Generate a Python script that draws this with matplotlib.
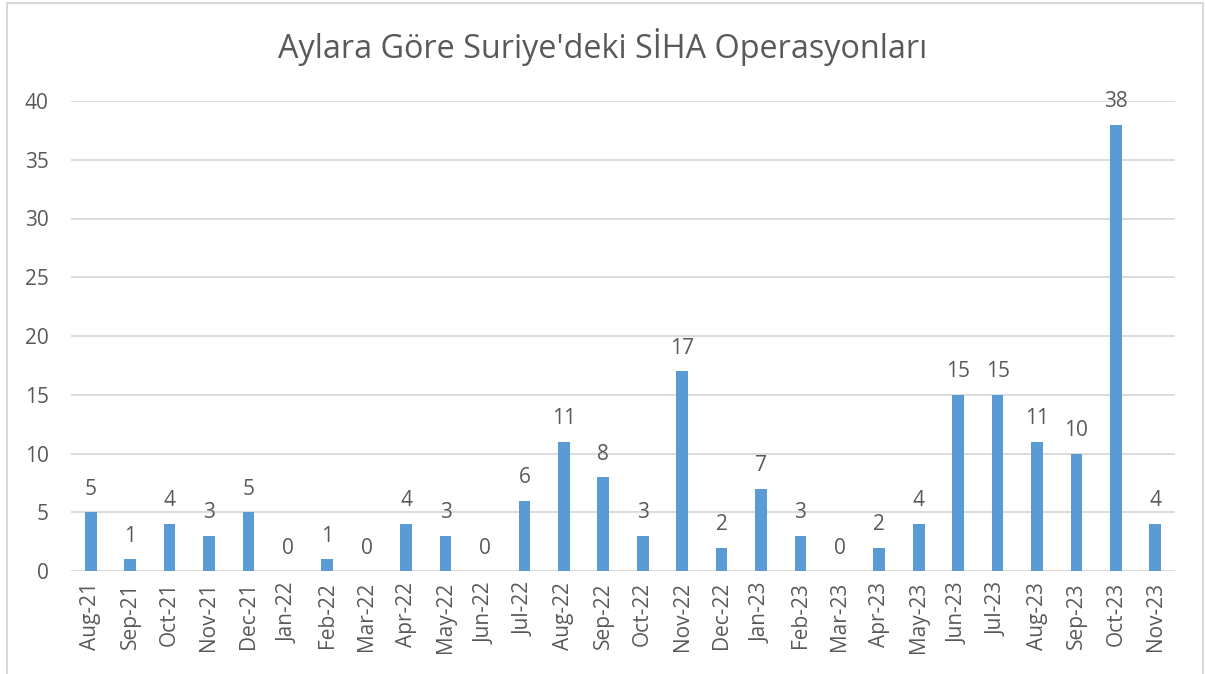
import matplotlib.pyplot as plt
from matplotlib.patches import Rectangle

plt.rcParams['font.family'] = ['Open Sans', 'DejaVu Sans']

# aylar ve operasyon sayilari
months = ['Aug-21', 'Sep-21', 'Oct-21', 'Nov-21', 'Dec-21', 'Jan-22', 'Feb-22',
          'Mar-22', 'Apr-22', 'May-22', 'Jun-22', 'Jul-22', 'Aug-22', 'Sep-22',
          'Oct-22', 'Nov-22', 'Dec-22', 'Jan-23', 'Feb-23', 'Mar-23', 'Apr-23',
          'May-23', 'Jun-23', 'Jul-23', 'Aug-23', 'Sep-23', 'Oct-23', 'Nov-23']
operations = [5, 1, 4, 3, 5, 0, 1, 0, 4, 3, 0, 6, 11, 8, 3, 17, 2, 7, 3, 0,
              2, 4, 15, 15, 11, 10, 38, 4]
yticks = [0, 5, 10, 15, 20, 25, 30, 35, 40]

text_color = '#595959'
bar_color = '#5B9BD5'
grid_color = '#D9D9D9'

W, H = 1205, 674
fig = plt.figure(figsize=(W / 100, H / 100), dpi=100)
ax = fig.add_axes([71 / W, 1 - 571 / H, (1175 - 71) / W, (571 - 101) / H])

x = range(len(months))
bars = ax.bar(x, operations, width=0.3, color=bar_color, zorder=3)
for xi, v in zip(x, operations):
    ax.annotate(str(v), (xi, v), xytext=(0, 9), textcoords='offset points',
                ha='center', va='bottom', fontsize=15, color=text_color)

ax.set_xlim(-0.5, len(months) - 0.5)
ax.set_ylim(0, 40)
ax.set_yticks(yticks)
ax.set_xticks(list(x))
ax.set_xticklabels(months, rotation=90)
ax.tick_params(axis='both', length=0, labelsize=15, labelcolor=text_color)
ax.tick_params(axis='y', pad=16)
ax.tick_params(axis='x', pad=8)
ax.grid(axis='y', color=grid_color, linewidth=1.3, zorder=0)
for s in ax.spines.values():
    s.set_visible(False)

fig.text(0.5, 1 - 47 / H, "Aylara Göre Suriye'deki SİHA Operasyonları",
         ha='center', va='center', fontsize=23.3, color=text_color)

fig.patches.append(Rectangle((7 / W, -0.05), (1203 - 7) / W, 1.05 - 3 / H,
                             transform=fig.transFigure, fill=False,
                             edgecolor='#D9D9D9', linewidth=1.5))

fig.savefig('out.png', dpi=100)
